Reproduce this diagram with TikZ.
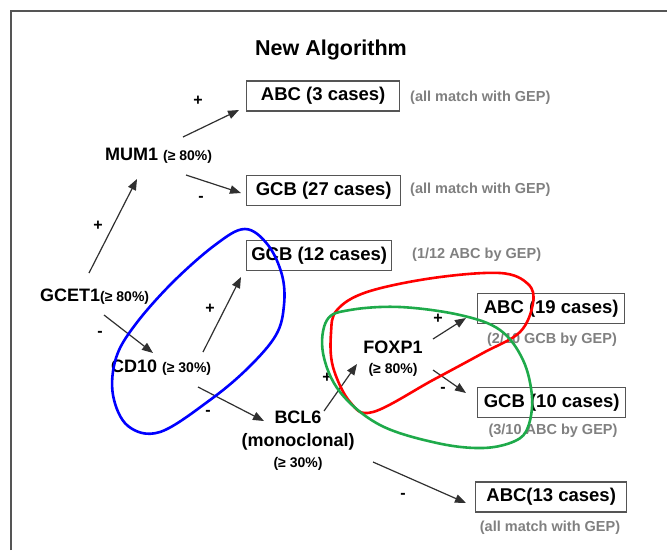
\documentclass[tikz,border=0pt]{standalone}
\usepackage{fontspec}
\setmainfont{Liberation Sans}
\usetikzlibrary{arrows.meta}
\definecolor{frame}{HTML}{555555}
\definecolor{notegray}{HTML}{808080}
\definecolor{arrowgray}{HTML}{303030}
\definecolor{loopgreen}{HTML}{1EAA4A}
\begin{document}
\begin{tikzpicture}[x=1pt,y=-1pt,
  big/.style={font=\fontsize{18}{20}\selectfont\bfseries, inner sep=1pt},
  outbox/.style={draw=frame, line width=1.4pt, font=\fontsize{18.5}{20}\selectfont\bfseries,
    minimum height=30pt, inner xsep=0pt, inner ysep=0pt, anchor=west},
  note/.style={text=notegray, font=\fontsize{14.5}{16}\selectfont\bfseries, inner sep=0pt},
  sign/.style={font=\fontsize{16}{16}\selectfont\bfseries, inner sep=0pt},
  link/.style={draw=arrowgray, line width=1.2pt, -{Triangle[length=11pt,width=8.5pt]}},
  loop/.style={line width=2.6pt}]
% page and frame
\useasboundingbox (0,0) rectangle (667,550);
\draw[frame, line width=1.6pt] (11,550) -- (11,11) -- (667,11);

% title
\node[font=\fontsize{21.5}{24}\selectfont\bfseries] (title) at (331,50) {New Algorithm};

% decision nodes
\node[big, anchor=west] (mum) at (104,156) {MUM1 \fontsize{14}{16}\selectfont(≥ 80\%)};
\node[big, anchor=west] (gcet) at (39,297) {GCET1\fontsize{14}{16}\selectfont(≥ 80\%)};
\node[big, anchor=west] (cd) at (110,368) {CD10 \fontsize{14}{16}\selectfont(≥ 30\%)};
\node[big, align=center] (bcl) at (298,441) {BCL6\\[3pt](monoclonal)\\[1pt]\fontsize{14}{16}\selectfont(≥ 30\%)};
\node[big, align=center] (fox) at (393,359) {FOXP1\\[0pt]\fontsize{14}{16}\selectfont(≥ 80\%)};

% outcome boxes
\node[outbox, minimum width=153pt] (abc3) at (246,96) {ABC (3 cases)};
\node[outbox, minimum width=154pt] (gcb27) at (246,190.5) {GCB (27 cases)};
\node[outbox, minimum width=145pt] (gcb12) at (246,255.5) {GCB (12 cases)};
\node[outbox, minimum width=147pt] (abc19) at (477,308.5) {ABC (19 cases)};
\node[outbox, minimum width=148pt] (gcb10) at (477,402.5) {GCB (10 cases)};
\node[outbox, minimum width=151pt] (abc13) at (475,497) {ABC(13 cases)};

% notes
\node[note, anchor=west] (n1) at (410,98) {(all match with GEP)};
\node[note, anchor=west] (n2) at (410,190) {(all match with GEP)};
\node[note, anchor=west] (n3) at (412,255) {(1/12 ABC by GEP)};
\node[note] (n4) at (552,340) {(2/10 GCB by GEP)};
\node[note] (n5) at (553,431) {(3/10 ABC by GEP)};
\node[note] (n6) at (550,528) {(all match with GEP)};

% connector end points
\coordinate (a1s) at (183,137); \coordinate (a1e) at (239,110);
\coordinate (a2s) at (186,175); \coordinate (a2e) at (241,193);
\coordinate (a3s) at (89,273);  \coordinate (a3e) at (137,179);
\coordinate (a4s) at (104,315); \coordinate (a4e) at (153,353);
\coordinate (a5s) at (203,352); \coordinate (a5e) at (241,277);
\coordinate (a6s) at (198,387); \coordinate (a6e) at (264,421);
\coordinate (a7s) at (324,411); \coordinate (a7e) at (357,364);
\coordinate (a8s) at (433,339); \coordinate (a8e) at (466,318);
\coordinate (a9s) at (433,370); \coordinate (a9e) at (466,393);
\coordinate (a10s) at (373,462); \coordinate (a10e) at (466,503);

\draw[link] (a1s) -- (a1e);
\draw[link] (a2s) -- (a2e);
\draw[link] (a3s) -- (a3e);
\draw[link] (a4s) -- (a4e);
\draw[link] (a5s) -- (a5e);
\draw[link] (a6s) -- (a6e);
\draw[link] (a7s) -- (a7e);
\draw[link] (a8s) -- (a8e);
\draw[link] (a9s) -- (a9e);
\draw[link] (a10s) -- (a10e);

% branch signs
\node[sign] (p1) at (198,101) {+};
\node[sign] (m1) at (201,199) {-};
\node[sign] (p2) at (98,226) {+};
\node[sign] (m2) at (100,334) {-};
\node[sign] (p3) at (210,309) {+};
\node[sign] (m3) at (208,413) {-};
\node[sign] (p4) at (327,378) {+};
\node[sign] (p5) at (438,319) {+};
\node[sign] (m4) at (443,390) {-};
\node[sign] (m5) at (403,496) {-};

% highlighted groups
\draw[loop, blue] plot[smooth cycle, tension=0.6] coordinates {
  (245,229) (268,245) (282,275) (284,305) (276,335) (248,368) (210,400)
  (160,432) (128,426) (113,395) (116,358) (135,325) (172,283) (215,245)};
\draw[loop, red] plot[smooth cycle, tension=0.6] coordinates {
  (337,310) (367,292) (433,278) (500,273) (528,284) (533,303) (520,332)
  (483,353) (433,380) (373,412) (350,402) (333,367) (331,333)};
\draw[loop, loopgreen] plot[smooth cycle, tension=0.6] coordinates {
  (327,320) (350,310) (400,307) (460,315) (500,330) (523,360) (532,397)
  (528,427) (515,441) (483,448) (437,443) (380,425) (340,392) (323,353)};
\end{tikzpicture}
\end{document}
